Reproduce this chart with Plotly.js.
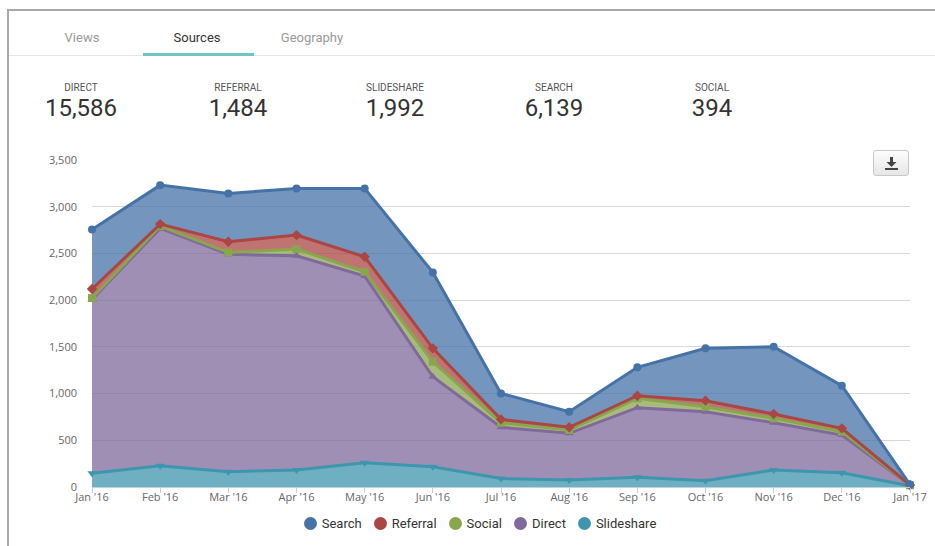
<!DOCTYPE html>
<html>
<head>
<meta charset="utf-8">
<script src="https://cdn.plot.ly/plotly-3.0.1.min.js"></script>
<style>
  html, body { margin:0; padding:0; background:#fff; }
  body { width:935px; height:546px; position:relative; overflow:hidden; font-family:"Open Sans","Liberation Sans",sans-serif; }
  #frame { position:absolute; left:7px; top:9px; width:940px; height:545px; border-left:2px solid #a8a8a8; border-top:2px solid #a8a8a8; box-sizing:border-box; }
  #sep { position:absolute; left:9px; top:55px; width:926px; height:1px; background:#e6e6e6; }
  .tab { position:absolute; top:30px; font-size:13px; transform:translateX(-50%); white-space:nowrap; font-family:"Liberation Sans Narrow","Roboto","Open Sans",sans-serif; }
  #ul { position:absolute; left:143px; top:53px; width:111px; height:3px; background:#6cc7c3; }
  .stat { position:absolute; top:82px; transform:translateX(-50%); text-align:center; }
  .stat .lab { font-size:10px; color:#555; font-family:"Liberation Sans Narrow","Roboto",sans-serif; }
  .stat .val { font-size:24px; color:#333; margin-top:1px; font-family:"Liberation Sans Narrow","Roboto",sans-serif; }
  #chart { position:absolute; left:0; top:0; width:935px; height:546px; }
  #dl { position:absolute; left:873px; top:150px; width:36px; height:26px; border:1px solid #c8c8c8; border-radius:3px; background:linear-gradient(#fdfdfd,#e6e6e6); box-sizing:border-box; z-index:5; }
  #dl svg { position:absolute; left:11px; top:6px; }
  #legend { position:absolute; top:516px; left:0; width:935px; display:flex; justify-content:center; padding-left:25px; box-sizing:border-box; font-family:"Liberation Sans Narrow","Roboto",sans-serif; font-size:13px; color:#333; }
  #legend .it { display:flex; align-items:center; margin:0 6px; }
  #legend .dot { width:13px; height:13px; border-radius:50%; margin-right:5px; }
</style>
</head>
<body>
<div id="chart"></div>
<div id="frame"></div>
<div id="sep"></div>
<div class="tab" style="left:82px;color:#999;">Views</div>
<div class="tab" style="left:197px;color:#333;">Sources</div>
<div class="tab" style="left:312px;color:#999;">Geography</div>
<div id="ul"></div>
<div id="stats"></div>
<div id="legend"></div>
<div id="dl"><svg width="13" height="13" viewBox="0 0 13 13"><rect x="5" y="0" width="3" height="6" fill="#444"/><polygon points="1.5,5 11.5,5 6.5,10" fill="#444"/><rect x="0" y="11" width="13" height="2" fill="#444"/></svg></div>
<script>
// ---- data ----
const months = ["Jan '16","Feb '16","Mar '16","Apr '16","May '16","Jun '16","Jul '16","Aug '16","Sep '16","Oct '16","Nov '16","Dec '16","Jan '17"];
const slideshare = [146, 228, 164, 182, 260, 217, 90, 75, 104, 68, 182, 153, 12];
const direct     = [1862, 2540, 2326, 2293, 1998, 963, 549, 500, 745, 738, 506, 403, 5];
const social     = [14, 25, 20, 72, 46, 161, 49, 35, 100, 53, 47, 36, 2];
const referral   = [97, 21, 115, 149, 160, 143, 36, 29, 28, 65, 46, 36, 2];
const search     = [638, 417, 517, 500, 732, 813, 278, 167, 304, 560, 720, 456, 5];
const statLabels = ["DIRECT", "REFERRAL", "SLIDESHARE", "SEARCH", "SOCIAL"];
const statValues = ["15,586", "1,484", "1,992", "6,139", "394"];
const yTicks = [0, 500, 1000, 1500, 2000, 2500, 3000, 3500];

// ---- header stats ----
const statX = [81, 238, 395, 554, 712];
const sc = document.getElementById('stats');
statLabels.forEach((l, i) => {
  const d = document.createElement('div');
  d.className = 'stat';
  d.style.left = statX[i] + 'px';
  d.innerHTML = '<div class="lab">' + l + '</div><div class="val">' + statValues[i] + '</div>';
  sc.appendChild(d);
});

// ---- chart ----
const series = [
  {name:'Slideshare', y:slideshare, line:'#3D96AE', fill:'rgba(61,150,174,0.75)', sym:'triangle-down'},
  {name:'Direct',     y:direct,     line:'#80699B', fill:'rgba(128,105,155,0.75)', sym:'triangle-up'},
  {name:'Social',     y:social,     line:'#89A54E', fill:'rgba(137,165,78,0.75)', sym:'square'},
  {name:'Referral',   y:referral,   line:'#AA4643', fill:'rgba(170,70,67,0.75)', sym:'diamond'},
  {name:'Search',     y:search,     line:'#4572A7', fill:'rgba(69,114,167,0.75)', sym:'circle'}
];
const traces = series.map(s => ({
  type:'scatter', mode:'lines+markers', x:months, y:s.y, name:s.name,
  stackgroup:'one', fill:'tonexty', fillcolor:s.fill, cliponaxis:false,
  line:{color:s.line, width:3},
  marker:{color:s.line, symbol:s.sym, size:8},
  showlegend:false, hoverinfo:'x+y+name'
}));

// HTML legend (Search first, like the reference)
const lg = document.getElementById('legend');
series.slice().reverse().forEach(s => {
  const it = document.createElement('div');
  it.className = 'it';
  it.innerHTML = '<span class="dot" style="background:' + s.line + '"></span><span>' + s.name + '</span>';
  lg.appendChild(it);
});

const layout = {
  width:935, height:546,
  margin:{l:92, r:25, t:160, b:59},
  paper_bgcolor:'rgba(0,0,0,0)', plot_bgcolor:'rgba(0,0,0,0)',
  font:{family:'"Open Sans", "Liberation Sans", sans-serif', color:'#666', size:11},
  showlegend:false,
  xaxis:{
    type:'category', range:[0, 12], showgrid:false, zeroline:false,
    showline:true, linecolor:'#c0d0e0', linewidth:1,
    ticks:'outside', ticklen:5, tickcolor:'#c0d0e0', ticklabelstandoff:-5,
    tickfont:{size:11, color:'#666'}, fixedrange:true
  },
  yaxis:{
    range:[0, 3500], tickvals:yTicks, tickformat:',d',
    showgrid:true, gridcolor:'#d8d8d8', gridwidth:1, zeroline:false, showline:false,
    ticks:'', ticklabelstandoff:14,
    tickfont:{size:11, color:'#666'}, fixedrange:true
  }
};
Plotly.newPlot('chart', traces, layout, {displayModeBar:false});
</script>
</body>
</html>
